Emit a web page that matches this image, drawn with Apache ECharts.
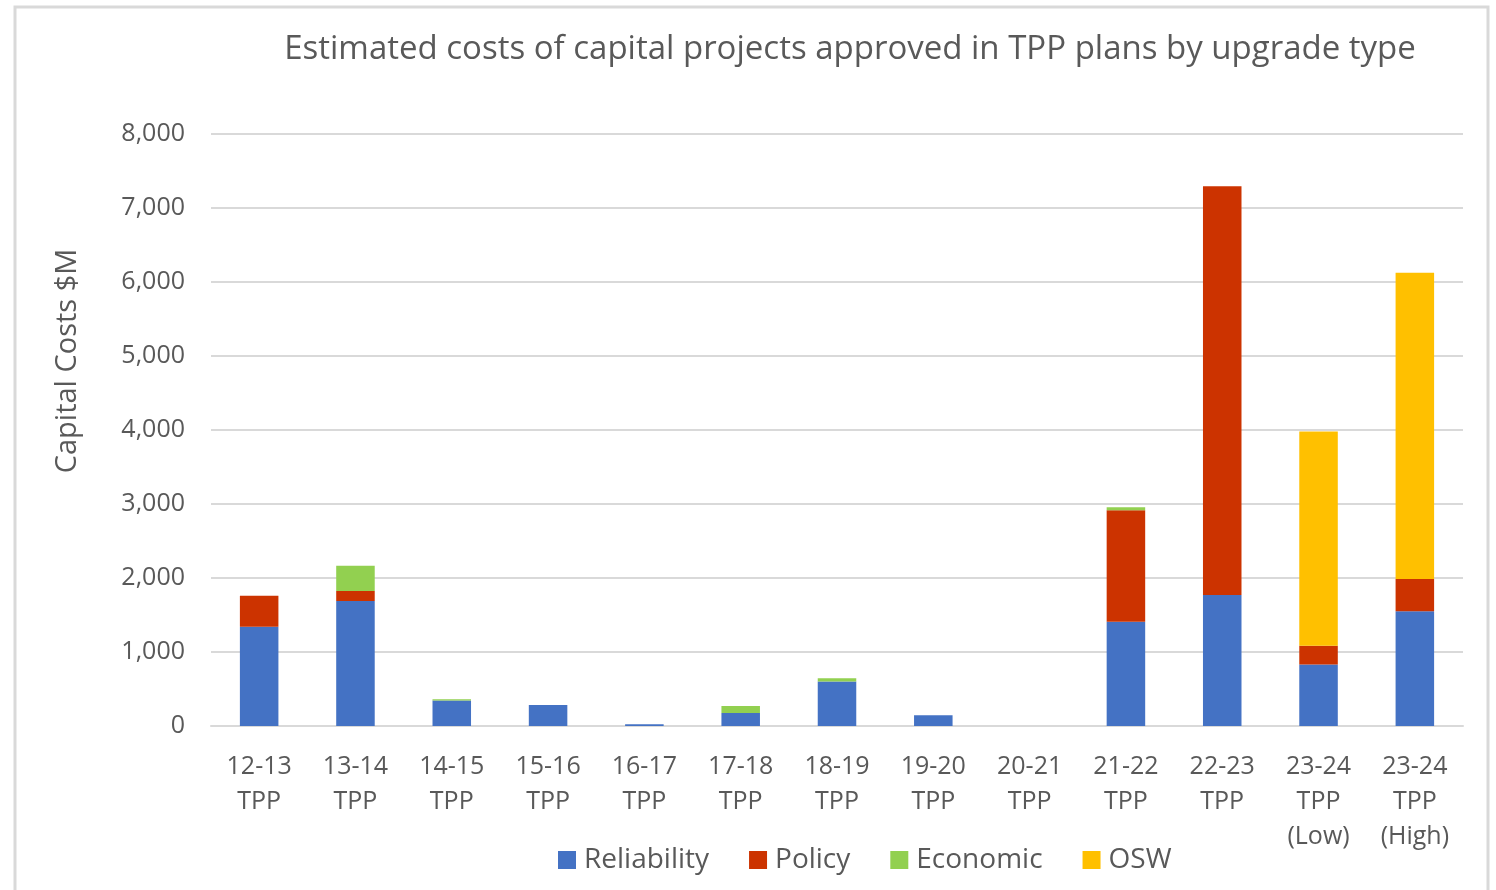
<!DOCTYPE html>
<html>
<head>
<meta charset="utf-8">
<script src="https://cdn.jsdelivr.net/npm/echarts@6/dist/echarts.min.js"></script>
<style>
  html, body { margin: 0; padding: 0; background: #fff; }
  #chart { width: 1496px; height: 890px; }
</style>
</head>
<body>
<div id="chart"></div>
<script>
// categories and values ($M)
var categories = ['12-13\nTPP', '13-14\nTPP', '14-15\nTPP', '15-16\nTPP', '16-17\nTPP', '17-18\nTPP',
                  '18-19\nTPP', '19-20\nTPP', '20-21\nTPP', '21-22\nTPP', '22-23\nTPP',
                  '23-24\nTPP\n(Low)', '23-24\nTPP\n(High)'];
var reliability = [1340, 1690, 345, 285, 25, 175, 600, 145, 0, 1410, 1770, 830, 1550];
var policy      = [420, 135, 0, 0, 0, 0, 0, 0, 0, 1505, 5525, 255, 435];
var economic    = [0, 340, 15, 0, 0, 95, 45, 0, 0, 40, 0, 0, 0];
var osw         = [0, 0, 0, 0, 0, 0, 0, 0, 0, 0, 0, 2895, 4140];
var yTicks = [0, 1000, 2000, 3000, 4000, 5000, 6000, 7000, 8000];

var FONT = '"Open Sans", "Noto Sans", sans-serif';
var TXT = '#595959';

function bar(name, data, color) {
    return {
        name: name,
        type: 'bar',
        stack: 'total',
        barWidth: '40%',
        data: data,
        itemStyle: { color: color },
        emphasis: { disabled: true }
    };
}

var option = {
    animation: false,
    textStyle: { fontFamily: FONT },
    title: {
        text: 'Estimated costs of capital projects approved in TPP plans by upgrade type',
        left: 845,
        textAlign: 'center',
        top: 28,
        textStyle: { fontFamily: FONT, fontSize: 33, fontWeight: 'normal', color: TXT }
    },
    legend: {
        bottom: 11,
        left: 553,
        itemWidth: 18,
        itemHeight: 18,
        itemGap: 40,
        icon: 'rect',
        textStyle: { fontFamily: FONT, fontSize: 28, color: TXT, padding: [0, 0, 0, 3] },
        data: ['Reliability', 'Policy', 'Economic', 'OSW']
    },
    grid: { left: 211, right: 33, top: 134, bottom: 164 },
    xAxis: {
        type: 'category',
        data: categories,
        axisLine: { lineStyle: { color: '#d9d9d9', width: 2 } },
        axisTick: { show: false },
        axisLabel: { color: TXT, fontSize: 25, lineHeight: 35, margin: 23, interval: 0 }
    },
    yAxis: {
        type: 'value',
        min: yTicks[0],
        max: yTicks[yTicks.length - 1],
        interval: yTicks[1] - yTicks[0],
        axisLine: { show: false },
        axisTick: { show: false },
        splitLine: { lineStyle: { color: '#d9d9d9', width: 2 } },
        axisLabel: {
            color: TXT, fontSize: 25, margin: 26,
            formatter: function (v) { return v.toLocaleString('en-US'); }
        }
    },
    graphic: [
        {
            type: 'rect',
            shape: { x: 15, y: 7, width: 1473, height: 900 },
            style: { fill: 'none', stroke: '#d9d9d9', lineWidth: 3 },
            silent: true
        },
        {
            type: 'text',
            x: 68, y: 361,
            rotation: Math.PI / 2,
            style: {
                text: 'Capital Costs $M',
                fontFamily: FONT, fontSize: 29, fill: TXT,
                textAlign: 'center', textVerticalAlign: 'middle'
            },
            silent: true
        }
    ],
    series: [
        bar('Reliability', reliability, '#4472C4'),
        bar('Policy', policy, '#CC3300'),
        bar('Economic', economic, '#92D050'),
        bar('OSW', osw, '#FFC000')
    ]
};

var myChart = echarts.init(document.getElementById('chart'));
myChart.setOption(option);
</script>
</body>
</html>
